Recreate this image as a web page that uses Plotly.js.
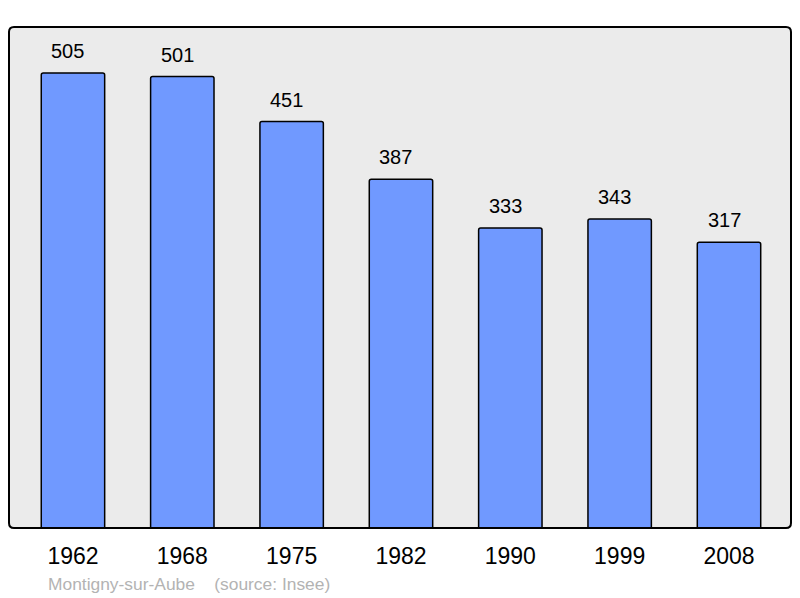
<!DOCTYPE html>
<html>
<head>
<meta charset="utf-8">
<script src="https://cdn.plot.ly/plotly-3.0.1.min.js"></script>
<style>html,body{margin:0;padding:0;background:#fff;}#chart{width:800px;height:598px;}</style>
</head>
<body>
<div id="chart"></div>
<script>
const years = ["1962", "1968", "1975", "1982", "1990", "1999", "2008"];
const population = [505, 501, 451, 387, 333, 343, 317];
const footer = "Montigny-sur-Aube\u00a0\u00a0\u00a0\u00a0(source: Insee)";

const W = 800, H = 598;
const m = {l: 9, r: 9, t: 27, b: 70};
const pw = W - m.l - m.r, ph = H - m.t - m.b;
const rx = 5 / pw, ry = 5 / ph;
const path = `M ${rx},0 L ${1-rx},0 Q 1,0 1,${ry} L 1,${1-ry} Q 1,1 ${1-rx},1 L ${rx},1 Q 0,1 0,${1-ry} L 0,${ry} Q 0,0 ${rx},0 Z`;
const FONT = 'Liberation Sans, Arial, sans-serif';

const xs = years.map((_, i) => i);

const trace = {
  type: 'bar',
  x: xs,
  y: population,
  width: 0.58,
  marker: {color: '#7099ff', line: {color: '#000', width: 1.5}, cornerradius: 2},
  hoverinfo: 'none'
};

const valueLabels = xs.map((x, i) => ({
  x: x, y: population[i], xref: 'x', yref: 'y',
  text: String(population[i]), showarrow: false,
  xanchor: 'center', yanchor: 'middle', xshift: -5, yshift: 22,
  font: {family: FONT, size: 20, color: '#000'}
}));

const layout = {
  width: W, height: H,
  margin: m,
  paper_bgcolor: '#ffffff',
  plot_bgcolor: 'rgba(0,0,0,0)',
  showlegend: false,
  xaxis: {
    range: [-0.585, 6.567],
    tickmode: 'array', tickvals: xs, ticktext: years,
    showgrid: false, zeroline: false, showline: false,
    ticks: '', ticklabelstandoff: 12,
    tickfont: {family: FONT, size: 23, color: '#000'},
    fixedrange: true
  },
  yaxis: {
    range: [0, 556],
    showgrid: false, zeroline: false, showline: false, showticklabels: false, ticks: '',
    fixedrange: true
  },
  shapes: [
    {type: 'path', xref: 'paper', yref: 'paper', path: path, fillcolor: '#ebebeb', line: {width: 0}, layer: 'below'},
    {type: 'path', xref: 'paper', yref: 'paper', path: path, fillcolor: 'rgba(0,0,0,0)', line: {color: '#000', width: 2}, layer: 'above'}
  ],
  annotations: valueLabels.concat([
    {text: footer, xref: 'paper', yref: 'paper', x: (46 - m.l) / pw, y: -(584 - m.t - ph) / ph,
     xanchor: 'left', yanchor: 'middle', showarrow: false,
     font: {family: FONT, size: 17.4, color: '#b3b3b3'}}
  ])
};

Plotly.newPlot('chart', [trace], layout, {staticPlot: true, displayModeBar: false});
</script>
</body>
</html>
